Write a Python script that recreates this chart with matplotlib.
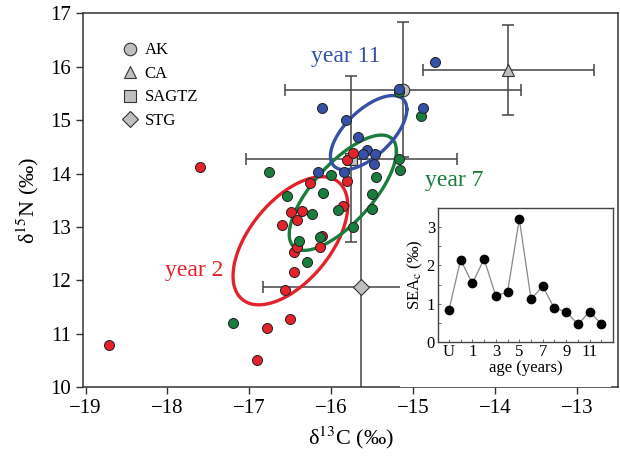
import numpy as np
import matplotlib
matplotlib.use("Agg")
import matplotlib.pyplot as plt
from matplotlib.patches import Rectangle

plt.rcParams['font.family'] = ['Liberation Serif', 'DejaVu Serif']
plt.rcParams['mathtext.fontset'] = 'stix'

# individual points (d13C, d15N) by age group
red_x = [-18.71, -17.60, -16.91, -16.78, -16.50, -16.57, -16.46, -16.45, -16.42, -16.60,
         -16.49, -16.36, -16.42, -16.26, -16.12, -16.14, -15.86, -15.81, -15.81, -15.74]
red_y = [10.78, 14.12, 10.50, 11.10, 11.27, 11.82, 12.15, 12.52, 12.63, 13.03,
         13.27, 13.29, 13.12, 13.82, 12.83, 12.63, 13.40, 13.86, 14.26, 14.38]
green_x = [-17.20, -16.76, -16.54, -16.39, -16.30, -16.14, -16.24, -16.10, -16.00, -15.92,
           -15.73, -15.51, -15.50, -15.45, -15.17, -15.16, -14.90, -15.17]
green_y = [11.20, 14.02, 13.57, 12.73, 12.35, 12.81, 13.24, 13.64, 13.97, 13.32,
           12.99, 13.33, 13.62, 13.93, 14.27, 14.07, 15.08, 15.52]
blue_x = [-14.74, -15.18, -16.11, -14.88, -15.82, -15.67, -15.57, -15.47, -15.61, -15.48,
          -16.16, -15.84]
blue_y = [16.09, 15.58, 15.22, 15.22, 15.01, 14.69, 14.44, 14.37, 14.36, 14.18,
          14.02, 14.03]

# SEA ellipses: centre x, centre y, sd x, sd y, correlation
ell_red = (-16.50, 12.74, 0.70, 1.20, 0.55)
ell_green = (-15.86, 13.64, 0.654, 1.08, 0.72)
ell_blue = (-15.545, 14.765, 0.466, 0.695, 0.63)

# group means with errors
grp_names = ['AK', 'CA', 'SAGTZ', 'STG']
grp_x = [-15.13, -13.84, -15.755, -15.64]
grp_y = [15.57, 15.94, 14.27, 11.87]
grp_xerr = [1.44, 1.04, 1.29, 1.20]
grp_yerr = [1.26, 0.85, 1.56, 2.40]
grp_mk = ['o', '^', 's', 'D']

# inset: SEAc by age (U, 0..12)
age_ticklabels = ['U', '1', '3', '5', '7', '9', '11']
sea_c = [0.82, 2.15, 1.53, 2.17, 1.20, 1.30, 3.22, 1.12, 1.45, 0.87, 0.79, 0.45, 0.79, 0.46]


def ellipse(cx, cy, sx, sy, rho):
    t = np.linspace(0, 2 * np.pi, 300)
    cov = np.array([[sx**2, rho * sx * sy], [rho * sx * sy, sy**2]])
    L = np.linalg.cholesky(cov)
    pts = L @ np.vstack([np.cos(t), np.sin(t)])
    return cx + pts[0], cy + pts[1]


fig = plt.figure(figsize=(6.2, 4.61), dpi=100)
ax = fig.add_axes([0.134, 0.1605, 0.863, 0.8105])

for i in range(len(grp_names)):
    ax.errorbar(grp_x[i], grp_y[i], xerr=grp_xerr[i], yerr=grp_yerr[i],
                fmt='none', ecolor='#444444', elinewidth=1.1, capsize=4.5,
                capthick=1.1, zorder=1)
    ax.plot(grp_x[i], grp_y[i], grp_mk[i], ms=9 if grp_mk[i] != 'D' else 8,
            mfc='#bfbfbf', mec='#333333', mew=0.8, zorder=2, label=grp_names[i])

cols = {'red': '#e3232b', 'green': '#1a7d3e', 'blue': '#3550a5'}
for e, c in [(ell_red, 'red'), (ell_green, 'green'), (ell_blue, 'blue')]:
    ex, ey = ellipse(*e)
    ax.plot(ex, ey, color=cols[c], lw=2.4, zorder=3)

for xs, ys, c in [(red_x, red_y, 'red'), (green_x, green_y, 'green'), (blue_x, blue_y, 'blue')]:
    ax.scatter(xs, ys, s=52, c=cols[c], edgecolors='#222222', linewidths=0.7, zorder=4)

ax.text(-15.82, 16.2, 'year 11', color=cols['blue'], fontsize=17, ha='center', va='center')
ax.text(-14.5, 13.86, 'year 7', color=cols['green'], fontsize=17, ha='center', va='center')
ax.text(-17.67, 12.18, 'year 2', color=cols['red'], fontsize=17, ha='center', va='center')

ax.set_xlim(-19.03, -12.5)
ax.set_ylim(10, 17)
ax.set_xticks([-19, -18, -17, -16, -15, -14, -13])
ax.set_yticks([10, 11, 12, 13, 14, 15, 16, 17])
ax.tick_params(direction='out', length=5, width=1, labelsize=15, color='#333333')
ax.set_xlabel('δ$^{13}$C (‰)', fontsize=16, labelpad=5)
ax.set_ylabel('δ$^{15}$N (‰)', fontsize=16, labelpad=7)
for s in ax.spines.values():
    s.set_color('#333333')
    s.set_linewidth(1.1)

ax.legend(loc='upper left', bbox_to_anchor=(0.056, 0.94), frameon=False, fontsize=12,
          handletextpad=0.3, labelspacing=0.45, handlelength=1.2, borderaxespad=0)

# white background behind inset and its labels
ax.add_patch(Rectangle((0.645, 0.16), 0.34, 0.415, transform=fig.transFigure,
                       facecolor='white', edgecolor='none', zorder=10, clip_on=False))

ins = fig.add_axes([0.706, 0.259, 0.283, 0.289])
idx = np.arange(len(sea_c))
ins.plot(idx, sea_c, '-', color='#888888', lw=0.9, zorder=1)
ins.plot(idx, sea_c, 'o', color='black', ms=6, zorder=2)
ins.set_xlim(-0.95, 14)
ins.set_ylim(0, 3.5)
ins.set_xticks(idx[::2])
ins.set_xticklabels(age_ticklabels)
ins.set_xticks(idx, minor=True)
ins.set_yticks([0, 1, 2, 3])
ins.set_yticks(np.arange(0, 3.6, 0.5), minor=True)
ins.tick_params(which='both', direction='in', length=2, width=0.6, labelsize=12, pad=2,
                color='#555555')
ins.set_xlabel('age (years)', fontsize=12, labelpad=0)
ins.set_ylabel('SEA$_\\mathrm{c}$ (‰)', fontsize=12, labelpad=1)
for s in ins.spines.values():
    s.set_color('#444444')
    s.set_linewidth(1.0)

fig.savefig('out.png', dpi=100)
